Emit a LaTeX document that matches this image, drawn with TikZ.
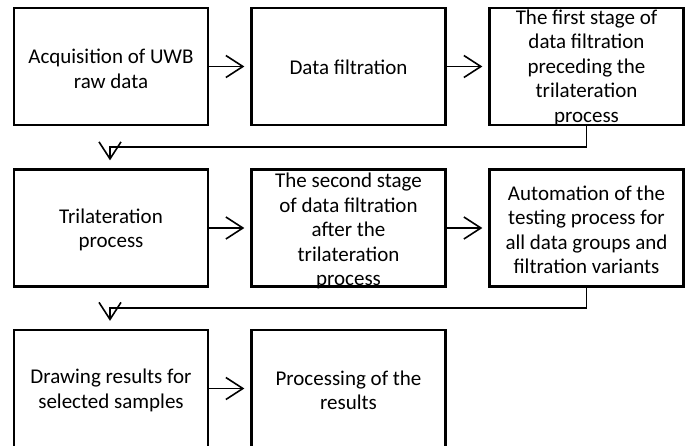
\documentclass[tikz,border=0pt]{standalone}
\usepackage{fontspec}
\setmainfont{Carlito}
\usetikzlibrary{arrows.meta}
\begin{document}
\begin{tikzpicture}[x=1pt,y=-1pt,
  box/.style={draw, line width=2.3pt, minimum width=194pt, minimum height=117pt, inner sep=0pt},
  txt/.style={align=center, font=\fontsize{21}{24.5}\selectfont, inner sep=0pt},
  conn/.style={line width=1.6pt, -{Straight Barb[length=17pt,width=22pt,line width=1.6pt]}}]
\useasboundingbox (0,0) rectangle (691,445);
\clip (0,0) rectangle (691,445);
\fill[white] (0,0) rectangle (691,445);
% boxes
\node[box] (b1) at (111,66.5) {};
\node[box] (b2) at (348.5,66.5) {};
\node[box] (b3) at (586.5,66.5) {};
\node[box] (b4) at (111,228) {};
\node[box] (b5) at (348.5,228) {};
\node[box] (b6) at (586.5,228) {};
\node[box] (b7) at (111,388.5) {};
\node[box] (b8) at (348.5,388.5) {};
% texts
\node[txt] (t1) at ([yshift=-2.5pt]b1) {Acquisition of UWB\\raw data};
\node[txt] (t2) at ([yshift=-1pt]b2) {Data filtration};
\node[txt] (t3) at ([yshift=-1pt]b3) {The first stage of\\data filtration\\preceding the\\trilateration\\process};
\node[txt] (t4) at ([yshift=-2pt]b4) {Trilateration\\process};
\node[txt] (t5) at ([yshift=-3pt]b5) {The second stage\\of data filtration\\after the\\trilateration\\process};
\node[txt] (t6) at ([yshift=-2pt]b6) {Automation of the\\testing process for\\all data groups and\\filtration variants};
\node[txt] (t7) at ([yshift=-2pt]b7) {Drawing results for\\selected samples};
\node[txt] (t8) at ([yshift=-2pt]b8) {Processing of the\\results};
% connectors
\draw[conn, shorten >=6pt] (b1.east) -- (b2.west);
\draw[conn, shorten >=6pt] (b2.east) -- (b3.west);
\draw[conn, shorten >=6pt] (b4.east) -- (b5.west);
\draw[conn, shorten >=6pt] (b5.east) -- (b6.west);
\draw[conn, shorten >=6pt] (b7.east) -- (b8.west);
\coordinate (k1) at (110,147);
\coordinate (k2) at (110,308);
\draw[conn] (b3.south) |- (k1) -- ([yshift=8pt]k1 |- b4.north);
\draw[conn] (b6.south) |- (k2) -- ([yshift=8pt]k2 |- b7.north);
\end{tikzpicture}
\end{document}
